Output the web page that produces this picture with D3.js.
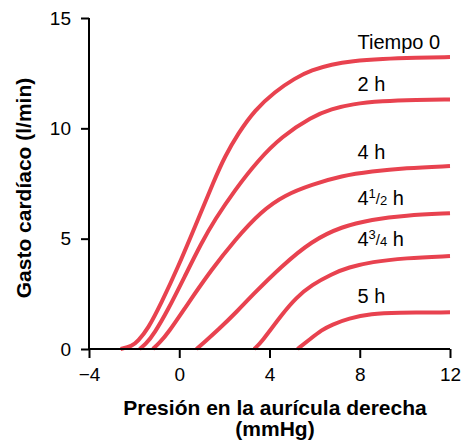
<!DOCTYPE html>
<html><head><meta charset="utf-8">
<script src="https://cdn.jsdelivr.net/npm/d3@7"></script>
<style>body{margin:0;background:#fff}svg{display:block}text{font-family:"Liberation Sans",Arial,Helvetica,sans-serif}</style>
</head><body><svg id="c" width="462" height="441"></svg>
<script>
// Data
const seriesNames = ["Tiempo 0", "2 h", "4 h", "4½ h", "4¾ h", "5 h"];
const x0 = [-2.6,-2.1,-1.84,-1.39,-0.8,-0.06,0.68,1.57,2.01,2.61,3.35,4.24,5.12,5.87,6.76,7.64,9,10.5,12];
const y0 = [0,0.12,0.35,0.9,2.07,3.7,5.5,7.7,8.7,9.77,10.83,11.66,12.27,12.64,12.9,13.05,13.15,13.2,13.23];
const x1 = [-1.76,-1.5,-1.1,-0.5,0.24,0.98,1.57,2.46,3.5,4.53,5.87,6.76,7.64,9,10.5,12];
const y1 = [0,0.2,0.71,1.77,3.28,4.8,5.85,7.2,8.56,9.62,10.53,10.88,11.1,11.24,11.29,11.31];
const x2 = [-1.17,-0.9,-0.5,0.39,1.42,2.46,3.64,4.68,5.87,7.2,8.53,10,12];
const y2 = [0,0.25,0.71,2.07,3.58,4.94,6.25,6.98,7.45,7.85,8.05,8.2,8.29];
const x3 = [0.76,1.1,1.72,2.61,3.2,4.53,5.87,7.2,8.53,10,12];
const y3 = [0,0.3,0.86,1.75,2.4,3.75,4.9,5.55,5.87,6.06,6.15];
const x4 = [3.32,3.64,4.53,5.2,5.87,6.76,7.5,8.53,10,12];
const y4 = [0,0.3,1.55,2.35,2.9,3.4,3.7,3.95,4.12,4.21];
const x5 = [5.24,5.8,6.31,6.76,7.5,8.53,9.57,12];
const y5 = [0,0.45,0.86,1.1,1.39,1.6,1.65,1.66];
const xTicks = [-4, 0, 4, 8, 12];
const yTicks = [0, 5, 10, 15];
const labelX = [7.9, 7.9, 7.9, 7.9, 7.9, 7.9];
const labelY = [13.59, 11.69, 8.61, 6.52, 4.67, 2.08];

const series = [[x0,y0],[x1,y1],[x2,y2],[x3,y3],[x4,y4],[x5,y5]];
const svg = d3.select("#c");
const x = d3.scaleLinear().domain([-4, 12]).range([89, 450]);
const y = d3.scaleLinear().domain([0, 15]).range([349, 18]);
const red = "#e8424f";

const line = d3.line().x(d => x(d[0])).y(d => y(d[1])).curve(d3.curveBasis);
series.forEach(([xs, ys]) => {
  svg.append("path").datum(xs.map((v, i) => [v, ys[i]]))
    .attr("d", line).attr("fill", "none").attr("stroke", red)
    .attr("stroke-width", 4).attr("stroke-linecap", "butt");
});

const xAxis = svg.append("g").attr("transform", `translate(0,${y(0)})`)
  .call(d3.axisBottom(x).tickValues(xTicks).tickSize(9).tickSizeOuter(0).tickPadding(10));
const yAxis = svg.append("g").attr("transform", `translate(${x(-4)},0)`)
  .call(d3.axisLeft(y).tickValues(yTicks).tickSize(8).tickSizeOuter(0).tickPadding(10));
[xAxis, yAxis].forEach(g => {
  g.selectAll("path,line").attr("stroke", "#000").attr("stroke-width", 2);
  g.selectAll("text").attr("font-size", 19).attr("fill", "#000")
    .attr("font-family", '"Liberation Sans",Arial,sans-serif');
});
xAxis.select(".domain").attr("d", `M${x(-4)},0H${x(12)}`);
yAxis.select(".domain").attr("d", `M0,${y(0)}V${y(15)}`);

// axis titles
svg.append("text").attr("x", 275).attr("y", 415).attr("text-anchor", "middle")
  .attr("font-size", 21).attr("font-weight", "bold").text("Presión en la aurícula derecha");
svg.append("text").attr("x", 275).attr("y", 436).attr("text-anchor", "middle")
  .attr("font-size", 21).attr("font-weight", "bold").text("(mmHg)");
svg.append("text").attr("transform", "translate(31,188) rotate(-90)").attr("text-anchor", "middle")
  .attr("font-size", 21).attr("font-weight", "bold").text("Gasto cardíaco (l/min)");

// curve labels
seriesNames.forEach((name, i) => {
  const t = svg.append("text").attr("x", x(labelX[i])).attr("y", y(labelY[i]))
    .attr("font-size", 20).attr("fill", "#000");
  if (name === "4½ h" || name === "4¾ h") {
    const num = name === "4½ h" ? "1" : "3";
    const den = name === "4½ h" ? "2" : "4";
    t.append("tspan").text("4");
    t.append("tspan").attr("font-size", 13).attr("dy", -7).text(num);
    t.append("tspan").attr("font-size", 15).attr("dy", 6).text("/");
    t.append("tspan").attr("font-size", 13).attr("dy", 1).text(den);
    t.append("tspan").text(" h");
  } else {
    t.text(name);
  }
});
</script></body></html>
